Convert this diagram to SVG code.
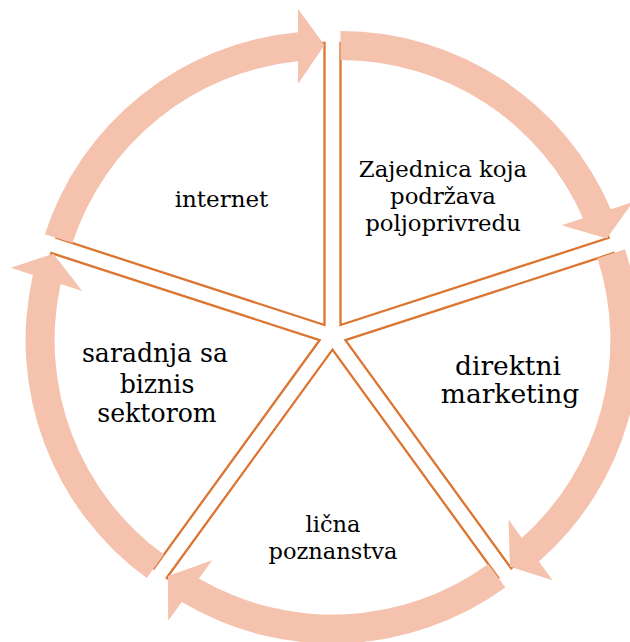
<svg xmlns="http://www.w3.org/2000/svg" width="630" height="642" viewBox="0 0 630 642">
<defs>
<style>
.slice{fill:#ffffff;stroke:#DC7530;stroke-width:2.3;stroke-linejoin:miter}
.arrow{fill:#F5C2AE;stroke:none}
.t{font-family:"DejaVu Serif","Liberation Serif",serif;fill:#000000;text-anchor:middle}
</style>
<path id="slicePath" d="M0,0 L-268.2,-87.14 A282,282 0 0 1 0,-282 Z"/>
<path id="arrowPath" d="M-279.61,-90.85 A294,294 0 0 1 -26.49,-292.8 L-26.5,-316 L0,-280 L-26.5,-241 L-26.46,-263.68 A265,265 0 0 0 -252.03,-81.89 Z"/>
</defs>
<rect width="630" height="642" fill="#ffffff"/>
<g id="node-internet">
<use href="#slicePath" class="slice" transform="translate(324.5,325)"/>
<text class="t" x="221.5" y="207" font-size="23">internet</text>
</g>
<g id="node-zajednica">
<use href="#slicePath" class="slice" transform="translate(340.5,325) rotate(72)"/>
<text class="t" font-size="22.8"><tspan x="443" y="177">Zajednica koja</tspan><tspan x="443" y="204">podržava</tspan><tspan x="443" y="231">poljoprivredu</tspan></text>
</g>
<g id="node-direktni">
<use href="#slicePath" class="slice" transform="translate(345.4,340.2) rotate(144)"/>
<text class="t" font-size="26.5"><tspan x="508" y="375">direktni</tspan><tspan x="510" y="403">marketing</tspan></text>
</g>
<g id="node-licna">
<use href="#slicePath" class="slice" transform="translate(332.5,349.6) rotate(216)"/>
<text class="t" font-size="22.5"><tspan x="333" y="532">lična</tspan><tspan x="333" y="559">poznanstva</tspan></text>
</g>
<g id="node-saradnja">
<use href="#slicePath" class="slice" transform="translate(319.6,340.2) rotate(288)"/>
<text class="t" font-size="25.2"><tspan x="155" y="362">saradnja sa</tspan><tspan x="157" y="393">biznis</tspan><tspan x="157" y="422">sektorom</tspan></text>
</g>
<g id="connectors">
<use href="#arrowPath" class="arrow" transform="translate(324.5,325)"/>
<use href="#arrowPath" class="arrow" transform="translate(340.5,325) rotate(72)"/>
<use href="#arrowPath" class="arrow" transform="translate(345.4,340.2) rotate(144)"/>
<use href="#arrowPath" class="arrow" transform="translate(332.5,349.6) rotate(216)"/>
<use href="#arrowPath" class="arrow" transform="translate(319.6,340.2) rotate(288)"/>
</g>
</svg>
